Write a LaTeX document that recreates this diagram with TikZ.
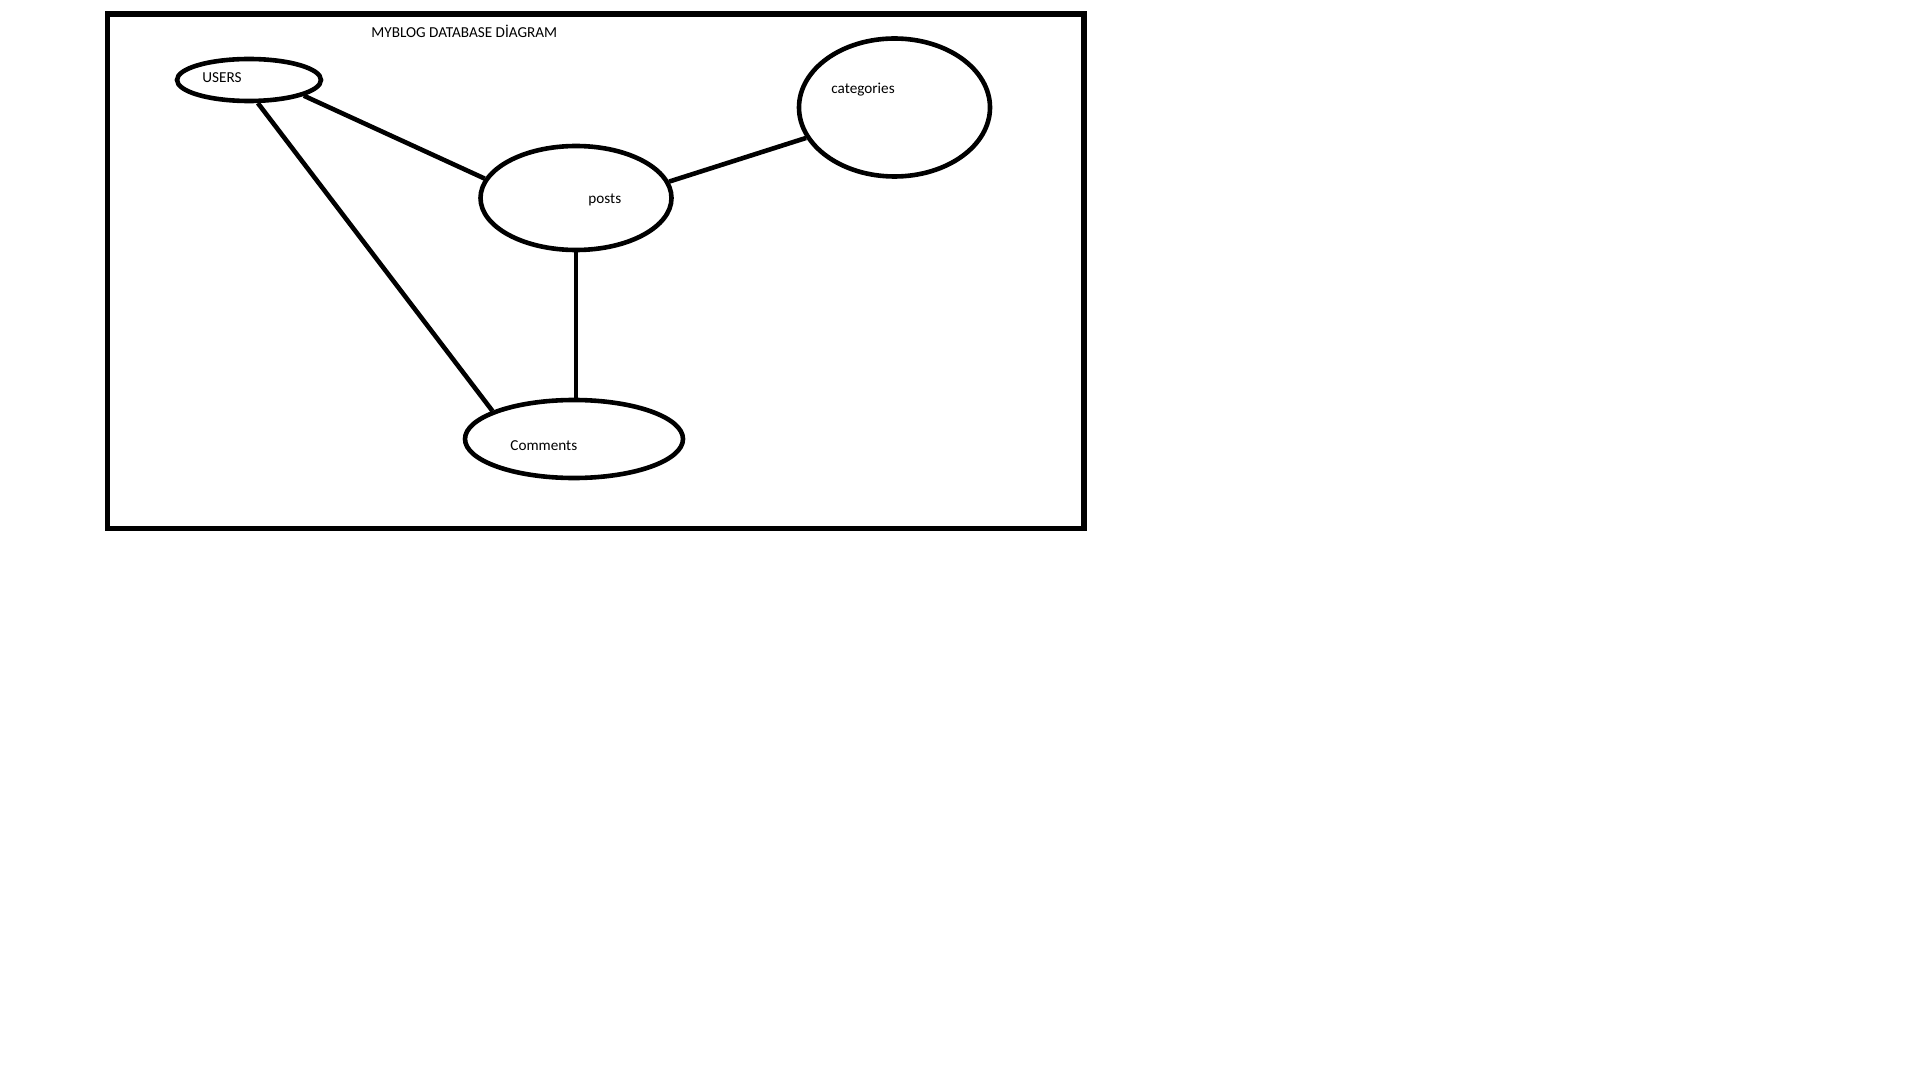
\documentclass[tikz,border=0pt]{standalone}
\usepackage{fontspec}
\setmainfont{Carlito}
\usetikzlibrary{shapes.geometric}
\begin{document}
\begin{tikzpicture}[x=0.5pt,y=-0.5pt,
  entity/.style={draw=black,line width=2.3pt,ellipse,inner sep=0pt},
  link/.style={draw=black,line width=2.3pt},
  caption/.style={anchor=base west,inner sep=0pt,font=\fontsize{7.6pt}{9pt}\selectfont}]
  % canvas
  \useasboundingbox (0,0) rectangle (1920,1080);
  \fill[white] (0,0) rectangle (1920,1080);
  % outer frame
  \draw[line width=2.6pt] (107.5,14) rectangle (1084,528.5);
  \node[caption] (title) at (371,38) {MYBLOG DATABASE DİAGRAM};
  % entities
  \node[entity,minimum width=72pt,minimum height=21pt] (users) at (249,80) {};
  \node[entity,minimum width=95.5pt,minimum height=52pt] (posts) at (576,198) {};
  \node[entity,minimum width=95.5pt,minimum height=69pt] (categories) at (894.5,107.5) {};
  \node[entity,minimum width=109pt,minimum height=39pt] (comments) at (574,439) {};
  % labels
  \node[caption] (userstext) at (202,83) {USERS};
  \node[caption] (poststext) at (588,204) {posts};
  \node[caption] (categoriestext) at (831,94) {categories};
  \node[caption] (commentstext) at (510,450) {Comments};
  % relations
  \draw[link] (users.-16.4) -- (posts.168.2);
  \draw[link] (users.-69) -- (comments.161.8);
  \draw[link] (posts.10.8) -- (categories.-161.4);
  \draw[link] (posts.south) -- (posts.south |- comments.north);
\end{tikzpicture}
\end{document}
